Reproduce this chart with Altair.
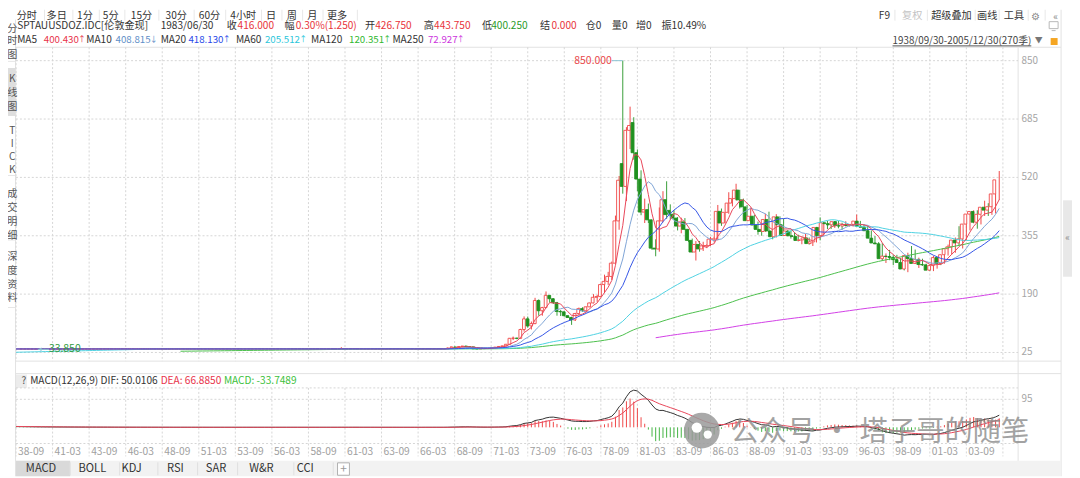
import altair as alt
import pandas as pd

FONT = "Noto Sans CJK SC"
UP = "#f04848"
DOWN = "#1f911f"
GRID = "#d6d6d6"
BORDER = "#e2e2e2"
W, H = 1072, 470
HS = 10.2  # header font size

# ---------------- data ----------------
# quarterly closes before the visible window (1920Q1-1938Q2); only feed MA / MACD
pre_close = [
    20.67, 20.67, 20.67, 20.67, 20.67, 20.67, 20.67, 20.67,
    20.67, 20.67, 20.67, 20.67, 20.67, 20.67, 20.67, 20.67,
    20.67, 20.67, 20.67, 20.67, 20.67, 20.67, 20.67, 20.67,
    20.67, 20.67, 20.67, 20.67, 20.67, 20.67, 20.67, 20.67,
    20.67, 20.67, 20.67, 20.67, 20.67, 20.67, 20.67, 20.67,
    20.67, 20.67, 20.67, 20.67, 20.67, 20.67, 20.67, 20.67,
    20.67, 20.67, 20.67, 20.67,
    20.67, 24.00, 29.50, 32.50,
    35.00, 35.00, 35.00, 35.00, 35.00, 35.00, 35.00, 35.00,
    35.00, 35.00, 35.00, 35.00, 35.00, 35.00, 35.00, 35.00,
    35.00, 35.00,
]

# 1938Q3 - 1967Q4: fixed-price era, quarters drawn as flat dashes
flat_close = [
    35.00, 34.95,
    35.00, 34.90, 34.85, 34.90,
    34.80, 34.85, 34.90, 34.95,
    35.00, 34.95, 35.00, 35.00,
    35.00, 35.00, 34.95, 35.00,
    35.00, 35.00, 35.00, 35.00,
    35.00, 35.00, 35.00, 35.00,
    35.00, 35.00, 35.00, 35.00,
    35.00, 35.00, 35.00, 35.00,
    35.00, 35.00, 35.00, 35.00,
    35.00, 35.00, 35.00, 35.00,
    35.00, 35.00, 35.00, 35.00,
    35.00, 35.00, 35.00, 35.00,
    35.00, 35.00, 35.00, 35.00,
    35.00, 35.00, 35.00, 35.00,
    35.00, 35.00, 35.00, 35.00,
    35.00, 35.05, 35.05, 35.05,
    35.05, 35.05, 35.05, 35.05,
    35.05, 35.05, 35.05, 35.05,
    35.05, 35.05, 35.05, 35.05,
    35.05, 35.05, 35.05, 35.10,
    35.10, 35.10, 35.10, 35.10,
    35.15, 35.20, 35.30, 35.55,
    35.50, 35.20, 35.25, 35.10,
    35.10, 35.10, 35.05, 35.10,
    35.05, 35.05, 35.10, 35.10,
    35.10, 35.10, 35.10, 35.15,
    35.15, 35.10, 35.10, 35.15,
    35.15, 35.15, 35.15, 35.20,
    35.20, 35.20, 35.20, 35.20,
]
flat_low_point = (6, 33.85)
flat_high_point = (89, 40.00)

# 1968Q1 - 2005Q4
act_open = [
    35.20, 37.50, 40.50, 39.50,  41.90, 43.00, 41.00, 40.80,
    35.20, 35.10, 35.60, 36.20,  37.40, 38.90, 40.10, 42.00,
    43.60, 48.20, 65.10, 65.50,  64.90, 90.00, 120.00, 100.00,
    106.70, 172.00, 143.00, 152.00,  186.50, 177.00, 166.00, 141.00,
    140.00, 129.00, 124.00, 117.00,  135.00, 148.90, 143.00, 154.00,
    165.00, 181.00, 183.00, 217.00,  226.00, 240.00, 277.50, 397.00,
    559.00, 494.50, 653.00, 675.00,  589.75, 515.25, 422.00, 428.75,
    400.00, 320.00, 317.50, 397.00,  456.90, 426.75, 416.00, 405.00,
    382.40, 394.25, 373.10, 341.90,  309.00, 330.50, 317.75, 326.50,
    327.00, 345.50, 345.75, 424.00,  391.00, 421.25, 447.30, 460.00,
    484.10, 456.40, 436.60, 397.70,  410.15, 385.30, 373.00, 367.00,
    401.00, 368.50, 352.20, 408.40,  386.20, 355.70, 368.40, 354.90,
    353.20, 341.70, 343.40, 349.00,  332.90, 337.80, 378.50, 355.50,
    391.75, 389.20, 385.80, 394.90,  383.25, 382.50, 387.00, 384.00,
    387.00, 396.35, 382.00, 379.00,  369.25, 348.25, 334.60, 332.10,
    290.20, 297.40, 296.30, 293.85,  287.45, 279.45, 261.00, 299.00,
    290.25, 276.75, 288.15, 273.65,  272.65, 257.70, 270.60, 293.25,
    276.50, 301.40, 318.50, 323.70,  342.75, 334.85, 346.00, 388.00,
    416.25, 423.70, 393.25, 415.65,  435.60, 427.50, 437.10, 473.25,
]
act_high = [
    39.00, 42.50, 41.00, 42.00,  43.80, 43.80, 41.50, 41.00,
    35.50, 36.00, 36.40, 37.60,  39.20, 40.60, 43.00, 44.20,
    49.00, 66.00, 70.00, 66.50,  92.00, 127.00, 126.50, 112.50,
    179.50, 175.00, 154.00, 197.50,  186.50, 178.00, 168.00, 145.00,
    140.50, 130.00, 126.00, 137.00,  152.00, 153.00, 155.00, 166.00,
    190.00, 188.00, 220.00, 245.00,  253.00, 282.00, 412.00, 524.00,
    850.00, 662.00, 720.00, 690.00,  599.00, 540.00, 460.00, 446.00,
    401.00, 345.00, 435.00, 481.00,  509.00, 443.75, 427.00, 408.00,
    406.00, 405.00, 374.00, 347.00,  340.00, 340.00, 338.00, 331.00,
    352.00, 352.00, 442.00, 432.00,  421.50, 478.00, 466.00, 502.00,
    485.00, 460.00, 442.00, 434.00,  414.00, 395.00, 373.00, 417.00,
    423.00, 374.00, 416.00, 410.00,  403.00, 371.00, 370.00, 365.00,
    358.00, 345.00, 360.00, 350.00,  338.00, 380.00, 407.00, 393.00,
    397.00, 391.00, 396.00, 397.00,  392.00, 396.00, 388.00, 389.00,
    415.00, 397.00, 387.00, 383.00,  370.00, 354.00, 337.00, 334.00,
    305.00, 315.00, 300.00, 301.00,  292.00, 290.00, 307.00, 326.00,
    316.00, 293.00, 290.00, 276.00,  273.00, 298.00, 294.00, 294.00,
    305.00, 330.00, 329.00, 350.00,  382.00, 372.00, 390.00, 417.00,
    427.00, 427.00, 415.00, 454.00,  447.00, 440.00, 474.00, 538.00,
]
act_low = [
    35.10, 37.00, 38.50, 38.80,  41.80, 40.80, 39.50, 35.00,
    34.80, 35.00, 35.40, 36.00,  37.30, 38.50, 39.90, 41.80,
    43.50, 47.80, 60.00, 62.50,  64.00, 84.00, 95.00, 90.00,
    105.00, 129.00, 129.00, 150.00,  166.00, 162.00, 129.00, 128.00,
    126.50, 123.00, 103.00, 114.00,  131.00, 140.00, 139.00, 153.00,
    164.00, 168.00, 182.00, 193.00,  216.00, 230.00, 276.00, 372.00,
    474.00, 453.00, 600.00, 570.00,  481.00, 413.00, 391.00, 391.00,
    315.00, 297.00, 310.00, 393.00,  403.00, 400.25, 400.00, 370.00,
    362.00, 371.00, 337.00, 307.00,  285.00, 310.00, 312.00, 320.00,
    326.00, 336.00, 342.00, 383.00,  390.00, 417.00, 438.00, 455.00,
    432.00, 436.00, 396.00, 395.00,  381.00, 358.00, 355.00, 366.00,
    366.00, 345.00, 350.00, 376.00,  355.00, 354.00, 347.00, 343.00,
    339.00, 331.00, 335.00, 330.00,  326.00, 336.00, 342.00, 354.00,
    374.00, 374.00, 377.00, 376.00,  372.00, 381.00, 381.00, 381.00,
    386.00, 380.00, 378.00, 367.00,  338.00, 333.00, 318.00, 284.00,
    278.00, 286.00, 272.00, 285.00,  279.00, 257.00, 252.00, 280.00,
    275.00, 264.00, 270.00, 263.00,  255.00, 255.00, 262.00, 272.00,
    276.00, 299.00, 302.00, 307.00,  327.00, 319.00, 342.00, 370.00,
    390.00, 375.00, 387.00, 411.00,  411.00, 414.00, 418.00, 456.00,
]
act_close = [
    37.50, 40.50, 39.50, 41.90,  43.00, 41.00, 40.80, 35.20,
    35.10, 35.60, 36.20, 37.40,  38.90, 40.10, 42.00, 43.60,
    48.20, 65.10, 65.50, 64.90,  90.00, 120.00, 100.00, 106.70,
    172.00, 143.00, 152.00, 186.50,  177.00, 166.00, 141.00, 140.00,
    129.00, 124.00, 117.00, 135.00,  148.90, 143.00, 154.00, 165.00,
    181.00, 183.00, 217.00, 226.00,  240.00, 277.50, 397.00, 512.00,
    494.50, 653.00, 666.75, 589.75,  515.25, 422.00, 428.75, 400.00,
    320.00, 317.50, 397.00, 456.90,  414.75, 416.00, 405.00, 382.40,
    394.25, 373.10, 341.90, 309.00,  330.50, 317.75, 326.50, 327.00,
    345.50, 345.75, 424.00, 391.00,  421.25, 447.30, 460.00, 484.10,
    456.40, 436.60, 397.70, 410.15,  385.30, 373.00, 367.00, 401.00,
    368.50, 352.20, 408.40, 386.20,  355.70, 368.40, 354.90, 353.20,
    341.70, 343.40, 349.00, 332.90,  337.80, 378.50, 355.50, 391.75,
    389.20, 385.80, 394.90, 383.25,  382.50, 387.00, 384.00, 387.00,
    396.35, 382.00, 379.00, 369.25,  348.25, 334.60, 332.10, 290.20,
    297.40, 296.30, 293.85, 287.45,  279.45, 261.00, 299.00, 290.25,
    276.75, 288.15, 273.65, 272.65,  257.70, 270.60, 293.25, 276.50,
    301.40, 318.50, 323.70, 342.75,  334.85, 346.00, 388.00, 416.25,
    423.70, 393.25, 415.65, 435.60,  427.50, 437.10, 473.25, 513.00,
]

price_ticks = [25, 190, 355, 520, 685, 850]
macd_ticks = [95]
tick_idx = [0, 10, 20, 30, 40, 50, 60, 70, 80, 90, 100, 110, 120, 130,
            140, 150, 160, 170, 180, 190, 200, 210, 220, 230, 240, 250, 260]
tick_labels = ["38-09", "41-03", "43-09", "46-03", "48-09", "51-03", "53-09",
               "56-03", "58-09", "61-03", "63-09", "66-03", "68-09", "71-03",
               "73-09", "76-03", "78-09", "81-03", "83-09", "86-03", "88-09",
               "91-03", "93-09", "96-03", "98-09", "01-03", "03-09"]

ma_periods = [5, 10, 20, 60, 120, 250]
ma_names = ["MA5", "MA10", "MA20", "MA60", "MA120", "MA250"]
ma_header_vals = ["400.430", "408.815", "418.130", "205.512", "120.351", "72.927"]
ma_header_arrows = ["↑", "↓", "↑", "↑", "↑", "↑"]
ma_colors = ["#e8475a", "#7fa4d6", "#3556e6", "#4fd2e2", "#4cc04c", "#d23fe6"]
ma_text_colors = ["#e8334a", "#5f8fc8", "#2a4ae8", "#2cc6da", "#30b830", "#cc33dd"]

# ---------------- frames ----------------
n_pre = len(pre_close)
opens = flat_close + act_open
closes = flat_close + act_close
highs = list(flat_close + act_high)
lows = list(flat_close + act_low)
highs[flat_high_point[0]] = flat_high_point[1]
lows[flat_low_point[0]] = flat_low_point[1]
n_vis = len(closes)

cdf = pd.DataFrame({"idx": list(range(n_vis)), "open": opens, "high": highs,
                    "low": lows, "close": closes})
cdf["up"] = cdf["close"] >= cdf["open"]

s = pd.Series(pre_close + closes, dtype=float)
ma_frames = {}
for p in ma_periods:
    v = s.rolling(p).mean().iloc[n_pre:].reset_index(drop=True)
    ma_frames[p] = pd.DataFrame({"idx": list(range(n_vis)), "v": v}).dropna()

ema12 = s.ewm(span=12, adjust=False).mean()
ema26 = s.ewm(span=26, adjust=False).mean()
dif = ema12 - ema26
dea = dif.ewm(span=9, adjust=False).mean()
macd = 2 * (dif - dea)
mdf = pd.DataFrame({"idx": list(range(n_vis)),
                    "dif": dif.iloc[n_pre:].values,
                    "dea": dea.iloc[n_pre:].values,
                    "macd": macd.iloc[n_pre:].values})

imax = int(cdf["high"].idxmax())
imin = int(cdf["low"].idxmin())
hi_df = pd.DataFrame({"idx": [imax], "v": [cdf.loc[imax, "high"]],
                      "t": [f"{cdf.loc[imax, 'high']:.3f}"]})
lo_df = pd.DataFrame({"idx": [imin], "v": [cdf.loc[imin, "low"]],
                      "t": [f"{cdf.loc[imin, 'low']:.3f}"]})

# ---------------- scales ----------------
XS = alt.Scale(domain=[0, 269], range=[8.1, 998.7], nice=False, zero=False)
YS = alt.Scale(domain=[25, 850], range=[345.3, 51.3], nice=False, zero=False)
MS = alt.Scale(domain=[0, 95], range=[420.7, 392.5], nice=False, zero=False)


def X(f):
    return alt.X(f, type="quantitative", scale=XS, axis=None)


def Y(f):
    return alt.Y(f, type="quantitative", scale=YS, axis=None)


def M(f):
    return alt.Y(f, type="quantitative", scale=MS, axis=None)


def PX(f):
    return alt.X(f, type="quantitative", scale=None, axis=None)


def PY(f):
    return alt.Y(f, type="quantitative", scale=None, axis=None)


def rects(rows, color, opacity=1.0):
    df = pd.DataFrame(rows, columns=["x", "x2", "y", "y2"])
    return alt.Chart(df).mark_rect(color=color, opacity=opacity).encode(
        x=PX("x"), x2="x2:Q", y=PY("y"), y2="y2:Q")


def lines(rows, color, width=1.0, dash=None):
    kw = dict(color=color, strokeWidth=width)
    if dash:
        kw["strokeDash"] = dash
    df = pd.DataFrame(rows, columns=["x", "x2", "y", "y2"])
    return alt.Chart(df).mark_rule(**kw).encode(
        x=PX("x"), x2="x2:Q", y=PY("y"), y2="y2:Q")


def texts(rows, size=HS, align="left", color="#333333", opacity=1.0):
    df = pd.DataFrame(rows, columns=["t", "x", "y", "c"] if len(rows[0]) == 4 else ["t", "x", "y"])
    enc = dict(x=PX("x"), y=PY("y"), text="t:N")
    kw = dict(align=align, baseline="middle", fontSize=size, font=FONT, opacity=opacity)
    if "c" in df.columns:
        enc["color"] = alt.Color("c:N", scale=None, legend=None)
    else:
        kw["color"] = color
    return alt.Chart(df).mark_text(**kw).encode(**enc)


layers = []

# ---------------- chrome backgrounds ----------------
layers.append(rects([(8, 1060, 454.5, 470)], "#f2f2f2"))
layers.append(rects([(8, 62.6, 454.5, 470)], "#d9d9d9"))
layers.append(rects([(8, 19, 367.5, 381)], "#ececec"))
layers.append(rects([(0, 8.3, 58.7, 107)], "#dedede"))
layers.append(rects([(1063, 1072, 192, 269)], "#e8e8e8"))
layers.append(rects([(1050.5, 1057.5, 28.5, 35.5)], "#f5a623"))
layers.append(rects([(332, 344, 456.5, 469)], "#ffffff"))

# borders
layers.append(lines([(8, 1061, 37.8, 37.8), (8, 1061, 354, 354), (8, 1061, 366.6, 366.6)], BORDER))
layers.append(lines([(1017.7, 1017.7, 37.8, 454.5), (7.6, 7.6, 10, 470), (1061, 1061, 0, 470)], BORDER))
layers.append(lines([(0, 7.6, 52, 52), (0, 7.6, 167, 167), (0, 7.6, 232, 232), (0, 7.6, 300, 300)], "#e6e6e6"))
layers.append(lines([(36.8, 36.8, 0, 11), (65.3, 65.3, 0, 11), (92, 92, 0, 11), (117.7, 117.7, 0, 11),
                     (152, 152, 0, 11), (187.6, 187.6, 0, 11), (219.3, 219.3, 0, 11), (255.4, 255.4, 0, 11),
                     (276, 276, 0, 11), (296.8, 296.8, 0, 11), (317.4, 317.4, 0, 11), (352, 352, 0, 11),
                     (893.6, 893.6, 0, 11), (926.3, 926.3, 0, 11), (974.5, 974.5, 0, 11), (998.6, 998.6, 0, 11),
                     (1027.9, 1027.9, 0, 11), (1045, 1045, 0, 11)], "#e8e8e8"))
layers.append(lines([(62.6, 62.6, 456, 469), (112.5, 112.5, 456, 469), (151, 151, 456, 469),
                     (191, 191, 456, 469), (231.3, 231.3, 456, 469), (288, 288, 456, 469),
                     (327.7, 327.7, 456, 469)], "#e0e0e0"))
layers.append(lines([(332, 344, 456.5, 456.5), (332, 344, 469, 469), (332, 332, 456.5, 469),
                     (344, 344, 456.5, 469)], "#b0b0b0"))
layers.append(lines([(891.2, 1031, 36.4, 36.4)], "#555555"))
# small monitor icon
layers.append(lines([(1049, 1058, 12, 12), (1049, 1058, 19, 19), (1049, 1049, 12, 19),
                     (1058, 1058, 12, 19), (1051.5, 1055.5, 21, 21)], "#b8b8b8"))

# ---------------- gridlines ----------------
grid_df = pd.DataFrame({"idx": tick_idx + [270]})
layers.append(alt.Chart(grid_df).mark_rule(color=GRID, strokeDash=[2, 2]).encode(
    x=X("idx"), y=alt.value(37.8), y2=alt.value(354)))
layers.append(alt.Chart(grid_df).mark_rule(color=GRID, strokeDash=[2, 2]).encode(
    x=X("idx"), y=alt.value(381), y2=alt.value(450)))
layers.append(alt.Chart(pd.DataFrame({"p": price_ticks})).mark_rule(color=GRID, strokeDash=[2, 2]).encode(
    y=Y("p"), x=alt.value(8), x2=alt.value(1017.7)))
layers.append(alt.Chart(pd.DataFrame({"p": macd_ticks})).mark_rule(color=GRID, strokeDash=[2, 2]).encode(
    y=M("p"), x=alt.value(8), x2=alt.value(1017.7)))
layers.append(lines([(8, 1017.7, 381, 381), (8, 1017.7, 437, 437)], GRID, dash=[2, 2]))

# ---------------- candles ----------------
cbase = alt.Chart(cdf)
layers.append(cbase.mark_rule(strokeWidth=1).encode(
    x=X("idx"), y=Y("low"), y2="high:Q",
    color=alt.condition("datum.up", alt.value(UP), alt.value("#3a9e3a"))))
layers.append(cbase.mark_bar(size=2.8, strokeWidth=0.9).encode(
    x=X("idx"), y=Y("open"), y2="close:Q",
    fill=alt.condition("datum.up", alt.value("#ffffff"), alt.value(DOWN)),
    stroke=alt.condition("datum.up", alt.value(UP), alt.value(DOWN))))

# ---------------- moving averages ----------------
for p in [250, 120, 60, 10, 5, 20]:
    c = ma_colors[ma_periods.index(p)]
    layers.append(alt.Chart(ma_frames[p]).mark_line(color=c, strokeWidth=1).encode(
        x=X("idx"), y=Y("v")))

# extremes
layers.append(alt.Chart(hi_df).mark_rule(color="#8cc4d4", x2Offset=-11).encode(
    x=X("idx"), x2="idx:Q", y=Y("v")))
layers.append(alt.Chart(hi_df).mark_text(align="right", baseline="middle", dx=-11, fontSize=10.5,
                                         font=FONT, color="#e8474a").encode(x=X("idx"), y=Y("v"), text="t:N"))
layers.append(alt.Chart(lo_df).mark_rule(color="#8cc4d4", x2Offset=11).encode(
    x=X("idx"), x2="idx:Q", y=Y("v")))
layers.append(alt.Chart(lo_df).mark_point(shape="triangle-left", filled=True, size=14, xOffset=2,
                                          color="#8cc4d4", opacity=1).encode(x=X("idx"), y=Y("v")))
layers.append(alt.Chart(lo_df).mark_text(align="left", baseline="middle", dx=11, fontSize=10.5,
                                         font=FONT, color="#2f9a3f").encode(x=X("idx"), y=Y("v"), text="t:N"))

# ---------------- MACD ----------------
mbase = alt.Chart(mdf)
layers.append(mbase.mark_rule(strokeWidth=1).encode(
    x=X("idx"), y=M("macd"), y2=alt.datum(0),
    color=alt.condition("datum.macd >= 0", alt.value("#f04848"), alt.value("#44b444"))))
layers.append(mbase.mark_line(color="#333333", strokeWidth=1).encode(x=X("idx"), y=M("dif")))
layers.append(mbase.mark_line(color="#e8475a", strokeWidth=1).encode(x=X("idx"), y=M("dea")))

# ---------------- axis labels ----------------
layers.append(alt.Chart(pd.DataFrame({"p": price_ticks})).mark_text(
    align="left", baseline="middle", fontSize=10, font=FONT, color="#a6a6a6").encode(
    x=alt.value(1021), y=Y("p"), text="p:N"))
layers.append(alt.Chart(pd.DataFrame({"p": macd_ticks})).mark_text(
    align="left", baseline="middle", fontSize=10, font=FONT, color="#a6a6a6").encode(
    x=alt.value(1021), y=M("p"), text="p:N"))
layers.append(alt.Chart(pd.DataFrame({"idx": tick_idx, "t": tick_labels})).mark_text(
    align="left", baseline="middle", dx=2, fontSize=10.3, font=FONT, color="#a0a0a0").encode(
    x=X("idx"), y=alt.value(445.8), text="t:N"))

# ---------------- header / chrome text ----------------
TY = 6.8
layers.append(texts([("分时", 19, TY), ("多日", 49, TY), ("1分", 77.5, TY), ("5分", 103.5, TY),
                     ("15分", 134.5, TY), ("30分", 169.5, TY), ("60分", 203, TY), ("4小时", 237, TY),
                     ("日", 265, TY), ("周", 286, TY), ("月", 306.5, TY), ("更多", 331.5, TY),
                     ("F9", 883, TY), ("超级叠加", 950.5, TY), ("画线", 986.5, TY),
                     ("工具", 1013.5, TY)], align="center"))
layers.append(texts([("复权", 911, TY)], align="center", color="#c4c4c4"))
layers.append(texts([("⚙", 1035.5, 7.2), ("«", 1055.5, 7.2)], size=10, align="center", color="#8a8a8a"))

R2 = 16.4
layers.append(texts([
    ("SPTAUUSDOZ.IDC[伦敦金现]", 9.2, R2, "#333333"), ("1983/06/30", 153.8, R2, "#333333"),
    ("收", 220.3, R2, "#333333"), ("416.000", 231.3, R2, "#e8333a"),
    ("幅", 278.5, R2, "#333333"), ("0.30%(1.250)", 289.9, R2, "#e8333a"),
    ("开", 359.8, R2, "#333333"), ("426.750", 370, R2, "#e8333a"),
    ("高", 419, R2, "#333333"), ("443.750", 429.3, R2, "#e8333a"),
    ("低", 477.5, R2, "#333333"), ("400.250", 486.8, R2, "#2a9a2a"),
    ("结", 536.1, R2, "#333333"), ("0.000", 547.5, R2, "#e8333a"),
    ("仓0", 582, R2, "#333333"), ("量0", 608.4, R2, "#333333"),
    ("增0", 632.6, R2, "#333333"), ("振10.49%", 658.4, R2, "#333333"),
]))

R3 = 30.9
ma_name_x = [9.2, 78.8, 153.8, 229.6, 305.4, 387.3]
ma_arrow_x = [74.6, 146.9, 220.3, 297.4, 382.1, 456.2]
rows_names, rows_vals, rows_arrows = [], [], []
for i in range(len(ma_names)):
    rows_names.append((ma_names[i], ma_name_x[i], R3, "#333333"))
    rows_vals.append((ma_header_vals[i], ma_arrow_x[i] - 3.2, R3, ma_text_colors[i]))
    rows_arrows.append((ma_header_arrows[i], ma_arrow_x[i], R3 - 0.5, ma_text_colors[i]))
layers.append(texts(rows_names))
layers.append(texts(rows_vals, size=9.8, align="right"))
layers.append(texts(rows_arrows, size=8, align="center"))
layers.append(texts([("1938/09/30-2005/12/30(270季)", 891.2, 31.4)], size=9.9, color="#444444"))
layers.append(texts([("▼", 1038.5, 31.4)], size=8, align="center", color="#777777"))
layers.append(texts([("«", 1067.5, 230)], size=9.5, align="center", color="#888888"))

# left sidebar
side = [("分", 4.3, 19), ("时", 4.3, 32), ("图", 4.3, 45.3),
        ("K", 4.3, 69.3), ("线", 4.3, 83.7), ("图", 4.3, 97.7),
        ("T", 4.3, 122), ("I", 4.3, 135.3), ("C", 4.3, 148.7), ("K", 4.3, 161.3),
        ("成", 4.3, 185.3), ("交", 4.3, 199.7), ("明", 4.3, 213.7), ("细", 4.3, 227.7),
        ("深", 4.3, 248.7), ("度", 4.3, 263), ("资", 4.3, 277), ("料", 4.3, 290.3)]
layers.append(texts(side, size=10.2, align="center", color="#555555"))

# MACD header
layers.append(texts([("?", 13.5, 374.2, "#555555"),
                     ("MACD(12,26,9) DIF: 50.0106", 22.3, 374.2, "#333333"),
                     ("DEA: 66.8850", 153.8, 374.2, "#e8334a"),
                     ("MACD: -33.7489", 217.5, 374.2, "#3cbf3c")]))

# bottom tabs
layers.append(texts([("MACD", 33.3, 463), ("BOLL", 85, 463), ("KDJ", 124.6, 463), ("RSI", 168.7, 463),
                     ("SAR", 209.6, 463), ("W&R", 255.4, 463), ("CCI", 299.5, 463)],
                    size=11.2, align="center", color="#333333"))
layers.append(texts([("+", 338, 462.5)], size=12, align="center", color="#999999"))

# watermark
wm_icon = pd.DataFrame({"x": [699], "y": [424]})
layers.append(alt.Chart(wm_icon).mark_point(shape="circle", filled=True, size=1300, color="#9a9a9a",
                                            opacity=0.85).encode(x=PX("x"), y=PY("y")))
wm_b = pd.DataFrame({"x": [694, 705], "y": [421, 428], "s": [110, 70]})
layers.append(alt.Chart(wm_b).mark_point(shape="circle", filled=True, color="#ffffff",
                                         opacity=1).encode(x=PX("x"), y=PY("y"),
                                                           size=alt.Size("s:Q", scale=None, legend=None)))
layers.append(texts([("公众号", 728, 425.5), ("塔子哥的随笔", 858, 425.5)], size=28.5,
                    color="#8c8c8c", opacity=0.8))
layers.append(texts([("·", 835, 425.5)], size=28.5, align="center", color="#8c8c8c", opacity=0.8))

chart = alt.layer(*layers).resolve_scale(
    x="independent", y="independent", color="independent", fill="independent",
    stroke="independent", size="independent"
).properties(
    width=W, height=H, autosize=alt.AutoSizeParams(type="none"), padding=0, background="white"
).configure_view(stroke=None)

chart.save("out.html", embed_options={"renderer": "svg", "actions": False})
